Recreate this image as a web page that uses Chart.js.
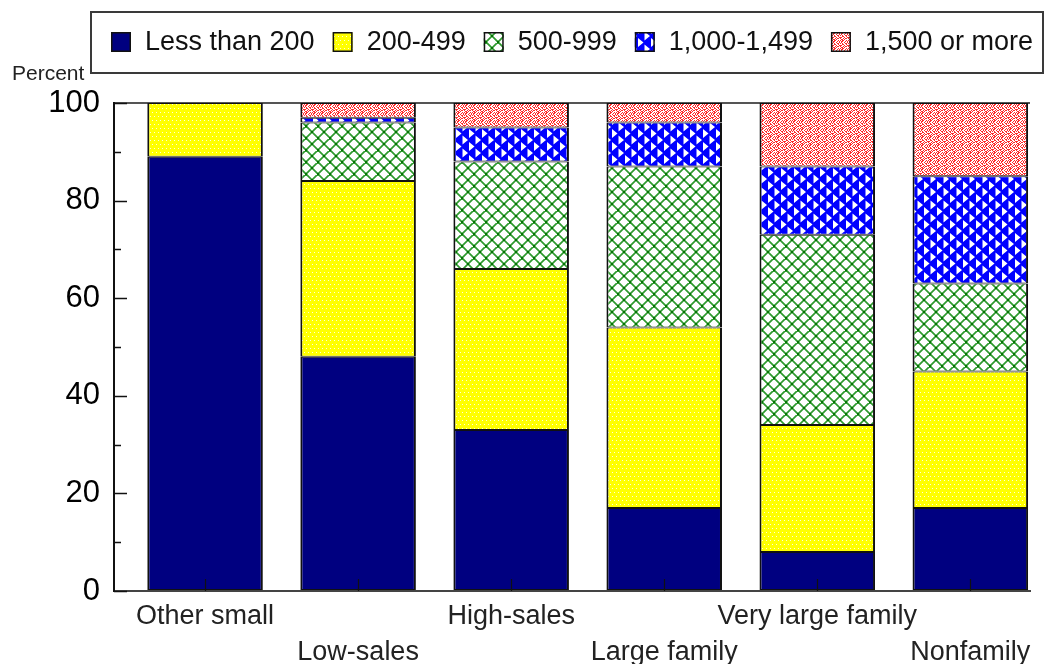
<!DOCTYPE html>
<html>
<head>
<meta charset="utf-8">
<script src="https://cdn.jsdelivr.net/npm/chart.js@4/dist/chart.umd.min.js"></script>
<style>
  html, body { margin: 0; padding: 0; background: #fff; }
  #wrap { width: 1047px; height: 664px; }
</style>
</head>
<body>
<div id="wrap"><canvas id="c" width="1047" height="664"></canvas></div>
<script>
// Household groups along the x axis
const categories = ['Other small', 'Low-sales', 'High-sales', 'Large family', 'Very large family', 'Nonfamily'];
// Size classes (stack order, bottom to top)
const seriesNames = ['Less than 200', '200-499', '500-999', '1,000-1,499', '1,500 or more'];
// Percent of each group falling in every size class
const lessThan200   = [89, 48, 33, 17,  8, 17];
const from200to499  = [11, 36, 33, 37, 26, 28];
const from500to999  = [ 0, 12, 22, 33, 39, 18];
const from1000to1499 = [ 0,  1,  7,  9, 14, 22];
const over1500      = [ 0,  3,  5,  4, 13, 15];
// Labelled y-axis ticks
const yTicks = [0, 20, 40, 60, 80, 100];

const FONT = '"Liberation Sans", Arial, Helvetica, sans-serif';
Chart.defaults.font.family = FONT;

const canvas = document.getElementById('c');
const mainCtx = canvas.getContext('2d');

// Small repeating tiles used as fills
function makePattern(w, h, draw) {
  const t = document.createElement('canvas');
  t.width = w; t.height = h;
  const g = t.getContext('2d');
  draw(g, w, h);
  return mainCtx.createPattern(t, 'repeat');
}

const navyFill = '#000080';

const yellowDots = makePattern(4, 8, (g, w, h) => {
  g.fillStyle = '#ffff00'; g.fillRect(0, 0, w, h);
  g.fillStyle = 'rgba(255,255,255,0.85)';
  g.fillRect(0, 0, 1, 1);
  g.fillRect(2, 4, 1, 1);
});

const greenLattice = makePattern(12, 12, (g, w, h) => {
  g.fillStyle = '#ffffff'; g.fillRect(0, 0, w, h);
  g.strokeStyle = '#2f9a2f'; g.lineWidth = 1.7;
  g.beginPath();
  for (const o of [-12, 0, 12]) {
    g.moveTo(o, 0); g.lineTo(o + 12, 12);
    g.moveTo(o + 12, 0); g.lineTo(o, 12);
  }
  g.stroke();
  g.fillStyle = '#067306';
  g.fillRect(5, 5, 2, 2);
  g.fillRect(0, 0, 1, 1); g.fillRect(11, 0, 1, 1);
  g.fillRect(0, 11, 1, 1); g.fillRect(11, 11, 1, 1);
});

const blueTriangles = makePattern(13, 13, (g, w, h) => {
  g.fillStyle = '#0000ff'; g.fillRect(0, 0, w, h);
  g.fillStyle = '#ffffff';
  g.beginPath();
  for (const dy of [-13, 0, 13]) {
    g.moveTo(1, dy - 1); g.lineTo(1, dy + 8); g.lineTo(6.5, dy + 3.5); g.closePath();
    g.moveTo(7.5, dy + 5.5); g.lineTo(7.5, dy + 14.5); g.lineTo(13, dy + 10); g.closePath();
  }
  g.fill();
});

const redSpeckle = makePattern(8, 8, (g, w, h) => {
  g.fillStyle = '#ffffff'; g.fillRect(0, 0, w, h);
  const rows = [
    '10110010',
    '01100101',
    '01001001',
    '10100110',
    '00110010',
    '11001001',
    '10010110',
    '01101000'
  ];
  g.fillStyle = '#ff2a2a';
  rows.forEach((r, y) => {
    for (let x = 0; x < r.length; x++) if (r[x] === '1') g.fillRect(x, y, 1, 1);
  });
});

const seriesValues = [lessThan200, from200to499, from500to999, from1000to1499, over1500];
const seriesFills = [navyFill, yellowDots, greenLattice, blueTriangles, redSpeckle];

const datasets = seriesNames.map((name, s) => ({
  label: name,
  data: seriesValues[s].map((v, i) => ({ x: i, y: v === 0 ? null : v })),
  backgroundColor: seriesFills[s],
  borderColor: '#111',
  borderWidth: { top: 1, bottom: 1, left: 2, right: 2 },
  borderSkipped: false,
  inflateAmount: 0,
  barPercentage: 0.755,
  categoryPercentage: 1
}));

// Inward tick marks, legend box and the "Percent" caption
const decorations = {
  id: 'decorations',
  beforeDraw(chart) {
    const c = chart.ctx;
    c.save(); c.fillStyle = '#fff'; c.fillRect(0, 0, chart.width, chart.height); c.restore();
  },
  afterDatasetsDraw(chart) {
    const c = chart.ctx, a = chart.chartArea, x = chart.scales.x, y = chart.scales.y;
    c.save();
    c.strokeStyle = '#111';
    c.lineWidth = 1.5;
    c.beginPath();
    for (let v = 0; v <= 100; v += 10) {
      const py = Math.round(y.getPixelForValue(v)) + 0.5;
      const len = v % 20 === 0 ? 13 : 7;
      c.moveTo(a.left, py); c.lineTo(a.left + len, py);
    }
    c.stroke();
    c.lineWidth = 1.2;
    c.beginPath();
    categories.forEach((_, i) => {
      const px = Math.round(x.getPixelForValue(i)) + 0.5;
      c.moveTo(px, a.bottom); c.lineTo(px, a.bottom - 12);
    });
    c.stroke();
    c.restore();
  },
  afterDraw(chart) {
    const c = chart.ctx;
    c.save();
    // legend frame
    c.strokeStyle = '#3a3a3a';
    c.lineWidth = 2;
    c.strokeRect(91, 12, 952, 61);
    // legend entries
    c.font = '27px ' + FONT;
    c.textBaseline = 'middle';
    let lx = 111;
    chart.data.datasets.forEach(ds => {
      c.fillStyle = ds.backgroundColor;
      c.fillRect(lx, 32, 20, 20);
      c.strokeStyle = '#111';
      c.lineWidth = 1.5;
      c.strokeRect(lx + 0.75, 32.75, 18.5, 18.5);
      c.fillStyle = '#111';
      c.fillText(ds.label, lx + 34, 43);
      lx += 34 + c.measureText(ds.label).width + 18;
    });
    // axis caption
    c.font = '21px ' + FONT;
    c.textBaseline = 'alphabetic';
    c.fillStyle = '#222';
    c.fillText('Percent', 12, 80);
    c.restore();
  }
};

new Chart(canvas, {
  type: 'bar',
  data: { datasets },
  plugins: [decorations],
  options: {
    responsive: false,
    animation: false,
    devicePixelRatio: 1,
    layout: { padding: { top: 103, right: 17, left: 0, bottom: 0 } },
    plugins: { legend: { display: false }, tooltip: { enabled: false } },
    scales: {
      x: {
        type: 'linear',
        stacked: true,
        min: -0.595,
        max: 5.39,
        offset: false,
        afterBuildTicks: axis => { axis.ticks = categories.map((_, i) => ({ value: i })); },
        afterFit: axis => { axis.height = 73; },
        grid: { display: true, drawOnChartArea: false, drawTicks: false },
        border: { display: true, color: '#444', width: 2 },
        ticks: {
          autoSkip: false,
          maxRotation: 0,
          minRotation: 0,
          padding: 8,
          color: '#222',
          font: { size: 27, lineHeight: 36 / 27 },
          callback: v => {
            const i = Math.round(v);
            return i % 2 ? ['', categories[i]] : categories[i];
          }
        }
      },
      y: {
        stacked: true,
        min: 0,
        max: 100,
        afterBuildTicks: axis => { axis.ticks = yTicks.map(v => ({ value: v })); },
        afterFit: axis => { axis.width = 114; },
        grid: {
          drawTicks: false,
          lineWidth: 2,
          color: ctx => (ctx.tick && ctx.tick.value === 100) ? '#555' : 'rgba(0,0,0,0)'
        },
        border: { display: true, color: '#111', width: 2 },
        ticks: { padding: 14, color: '#000', font: { size: 31 } }
      }
    }
  }
});
</script>
</body>
</html>
